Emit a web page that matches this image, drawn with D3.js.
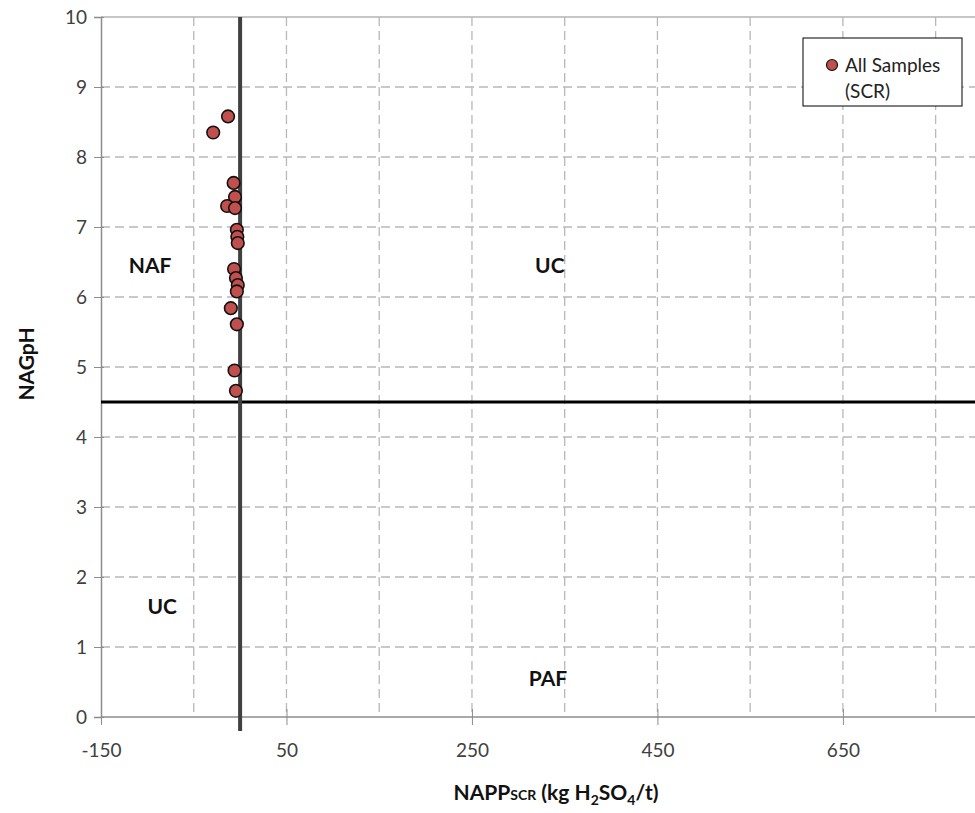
<!DOCTYPE html>
<html>
<head>
<meta charset="utf-8">
<script src="https://cdn.jsdelivr.net/npm/d3@7"></script>
<style>
  body { margin: 0; background: #fff; }
  svg { font-family: Lato, "Open Sans", sans-serif; }
</style>
</head>
<body>
<div id="board"></div>
<script>
// NAPP (kg H2SO4/t) vs NAGpH, all samples
var napp  = [-13, -29, -7, -5.5, -14, -5.5, -3.5, -3, -2.5, -6.5, -4.5, -2.5, -3.5, -10, -3.5, -6, -4.5];
var nagph = [8.58, 8.35, 7.63, 7.43, 7.30, 7.27, 6.96, 6.86, 6.77, 6.40, 6.27, 6.17, 6.08, 5.84, 5.61, 4.95, 4.66];

var xLabelTicks = [-150, 50, 250, 450, 650];
var xGridTicks  = [-50, 50, 150, 250, 350, 450, 550, 650, 750];
var yTicks      = [0, 1, 2, 3, 4, 5, 6, 7, 8, 9, 10];

var zoneNames = ['NAF', 'UC', 'UC', 'PAF'];
var zoneX     = [-97, 334, -84, 332];
var zoneY     = [6.46, 6.46, 1.6, 0.57];

var nappCut = 0;     // vertical divider
var phCut   = 4.5;   // horizontal divider

var self = {};

self.draw = function(){
    var W = 975, H = 813;
    var svg = d3.select("#board").append("svg")
        .attr("width", W)
        .attr("height", H);

    var x = d3.scaleLinear().domain([-150, 800]).range([101, 982]);
    var y = d3.scaleLinear().domain([0, 10]).range([717, 17]);

    // gridlines
    svg.append("g").selectAll("line.gy")
        .data(yTicks.slice(1, -1))
        .join("line")
        .attr("x1", x(-150)).attr("x2", W)
        .attr("y1", d => y(d)).attr("y2", d => y(d))
        .style("stroke", "#b8b8b8")
        .style("stroke-width", 1.3)
        .style("stroke-dasharray", "9,5");

    svg.append("g").selectAll("line.gx")
        .data(xGridTicks)
        .join("line")
        .attr("x1", d => x(d)).attr("x2", d => x(d))
        .attr("y1", y(10)).attr("y2", y(0))
        .style("stroke", "#b8b8b8")
        .style("stroke-width", 1.3)
        .style("stroke-dasharray", "9,5");

    // top border
    svg.append("line")
        .attr("x1", x(-150)).attr("x2", W)
        .attr("y1", y(10)).attr("y2", y(10))
        .style("stroke", "#b3b3b3").style("stroke-width", 1.3);

    // axes
    var yAxis = d3.axisLeft(y).tickValues(yTicks).tickSize(7).tickPadding(7)
        .tickFormat(d => String(d));
    var gy = svg.append("g").attr("transform", "translate(" + x(-150) + ",0)").call(yAxis);
    gy.select(".domain").style("stroke", "#8c8c8c").style("stroke-width", 1.5);
    gy.selectAll(".tick line").attr("x2", -7).attr("x1", 3).style("stroke", "#8c8c8c");
    gy.selectAll("text").style("font-size", "19px").style("fill", "#404040")
        .style("font-family", "Lato, sans-serif");

    var xAxis = d3.axisBottom(x).tickValues(xLabelTicks).tickSize(8)
        .tickFormat(d => String(d));
    var gx = svg.append("g").attr("transform", "translate(0," + y(0) + ")").call(xAxis);
    gx.select(".domain").attr("d", "M" + x(-150) + ",0H" + W)
        .style("stroke", "#8c8c8c").style("stroke-width", 1.5);
    gx.selectAll(".tick line").attr("y1", -8).style("stroke", "#8c8c8c");
    gx.selectAll("text").attr("y", 40).attr("dy", null)
        .style("font-size", "19px").style("fill", "#404040")
        .style("font-family", "Lato, sans-serif");

    // divider lines
    svg.append("line")
        .attr("x1", x(-150)).attr("x2", W)
        .attr("y1", y(phCut)).attr("y2", y(phCut))
        .style("stroke", "#000").style("stroke-width", 3);

    svg.append("line")
        .attr("x1", x(nappCut)).attr("x2", x(nappCut))
        .attr("y1", y(10)).attr("y2", y(-0.2))
        .style("stroke", "#404040").style("stroke-width", 4);

    // zone labels
    svg.append("g").selectAll("text")
        .data(zoneNames)
        .join("text")
        .attr("x", (d, i) => x(zoneX[i]))
        .attr("y", (d, i) => y(zoneY[i]))
        .attr("text-anchor", "middle")
        .attr("dominant-baseline", "central")
        .style("font-size", "21px")
        .style("font-weight", "bold")
        .style("fill", "#111")
        .text(d => d);

    // points
    svg.append("g").selectAll("circle")
        .data(napp)
        .join("circle")
        .attr("cx", d => x(d))
        .attr("cy", (d, i) => y(nagph[i]))
        .attr("r", 6.3)
        .style("fill", "#c0504d")
        .style("stroke", "#111")
        .style("stroke-width", 1.6);

    // legend
    var lg = svg.append("g").attr("transform", "translate(803,38)");
    lg.append("rect")
        .attr("width", 159).attr("height", 68)
        .style("fill", "#fff").style("stroke", "#000").style("stroke-width", 1);
    lg.append("circle").attr("cx", 29).attr("cy", 27).attr("r", 5.5)
        .style("fill", "#c0504d").style("stroke", "#111").style("stroke-width", 1.2);
    lg.append("text").attr("x", 42).attr("y", 34)
        .style("font-size", "19px").style("fill", "#222").text("All Samples");
    lg.append("text").attr("x", 42).attr("y", 60)
        .style("font-size", "19px").style("fill", "#222").text("(SCR)");

    // axis titles
    svg.append("text")
        .attr("transform", "translate(34,364) rotate(-90)")
        .attr("text-anchor", "middle")
        .style("font-size", "21px").style("font-weight", "bold").style("fill", "#111")
        .text("NAGpH");

    var xt = svg.append("text")
        .attr("x", 556).attr("y", 800)
        .attr("text-anchor", "middle")
        .style("font-size", "21px").style("font-weight", "bold").style("fill", "#111");
    xt.append("tspan").text("NAPP");
    xt.append("tspan").style("font-size", "14px").text("SCR");
    xt.append("tspan").text(" (kg H");
    xt.append("tspan").style("font-size", "14px").attr("dy", 5).text("2");
    xt.append("tspan").attr("dy", -5).text("SO");
    xt.append("tspan").style("font-size", "14px").attr("dy", 5).text("4");
    xt.append("tspan").attr("dy", -5).text("/t)");
};

window.onload = self.draw;
</script>
</body>
</html>
